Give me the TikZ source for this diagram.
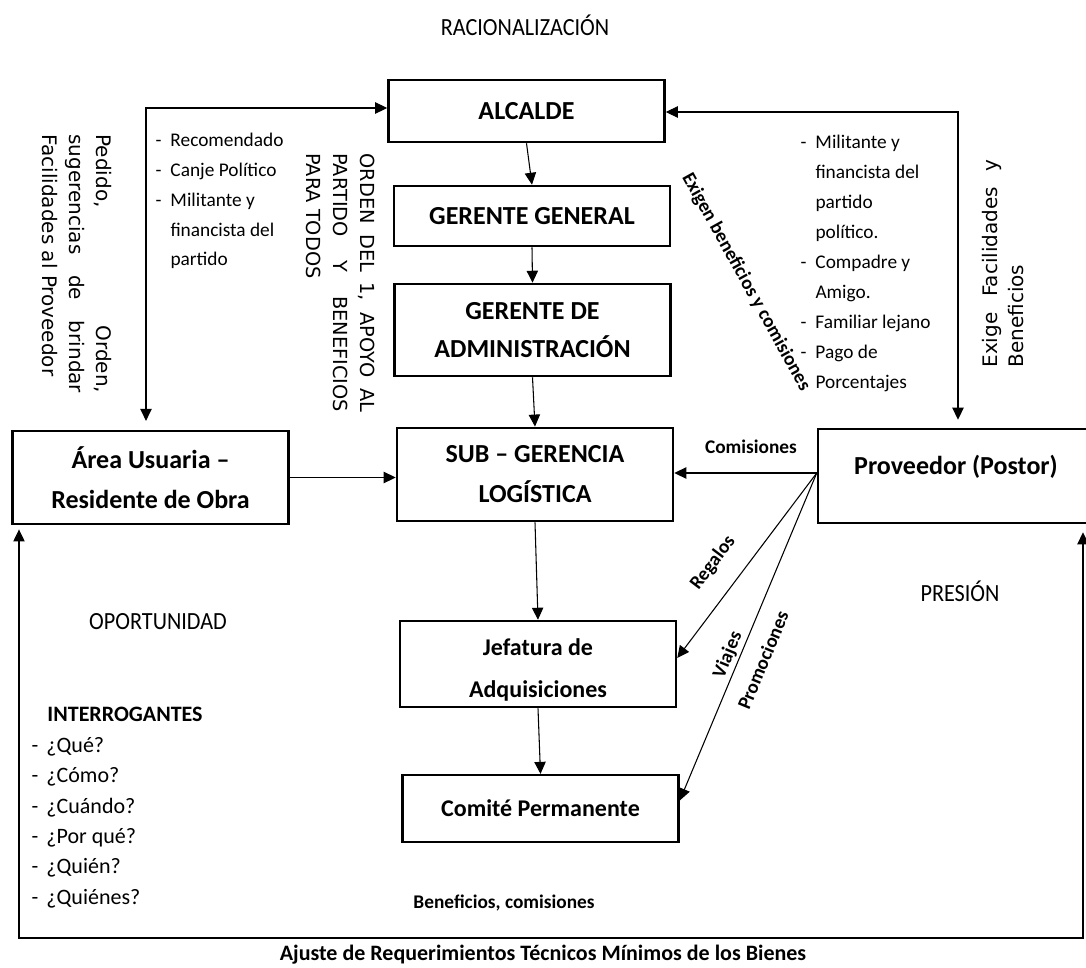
\documentclass[tikz,border=0pt]{standalone}
\usepackage{fontspec}
\setmainfont{Carlito}
\newfontfamily\verdfont{DejaVu Sans}
\usetikzlibrary{arrows.meta,calc}

\tikzset{every picture/.style={line width=0.75pt}}
\tikzset{
  caja/.style={draw, line width=1.9pt, minimum width=207pt, align=center, inner sep=2pt,
    font=\bfseries\fontsize{19.5}{30}\selectfont},
  cajachica/.style={caja, font=\bfseries\fontsize{18}{31}\selectfont},
  flecha/.style={-{Triangle[length=9pt,width=8.5pt]}, line width=0.8pt},
  flechados/.style={{Triangle[length=9pt,width=8.5pt]}-{Triangle[length=9pt,width=8.5pt]}, line width=0.8pt},
  etiq/.style={font=\bfseries\fontsize{14.5}{17}\selectfont, inner sep=0pt},
  lista/.style={anchor=north west, inner sep=0pt, align=left, font=\fontsize{14.5}{22.3}\selectfont},
  vert/.style={anchor=north west, inner sep=0pt, align=left, font=\verdfont\fontsize{15}{20}\selectfont},
  titulo/.style={font=\fontsize{18.5}{20}\selectfont}
}
\newcommand{\itm}[1]{\makebox[11.25pt][l]{-}#1}
\newcommand{\sgt}[1]{\hspace*{11.25pt}#1}
\newcommand{\angosto}[1]{\scalebox{0.9}[1]{#1}}

\begin{document}
\begin{tikzpicture}[x=0.75pt,y=0.75pt,yscale=-1,xscale=1]
	%set diagram size 1086 x 968
	\useasboundingbox (0,0) rectangle (1086,968);
	
	%Shape: Rectangle [alcalde]
	\node[caja, minimum height=46.5pt] (alcalde) at (526.5,111) {ALCALDE};
	%Shape: Rectangle [gerente general]
	\node[caja, minimum height=45pt] (gergen) at (532,216) {GERENTE GENERAL};
	%Shape: Rectangle [gerente de administracion]
	\node[caja, minimum height=69pt, font=\bfseries\fontsize{19.5}{28.5}\selectfont] (geradm) at (532.5,330) {GERENTE DE\\ADMINISTRACIÓN};
	%Shape: Rectangle [sub gerencia]
	\node[caja, minimum height=70pt] (subger) at (535,474.5) {SUB – GERENCIA\\LOGÍSTICA};
	%Shape: Rectangle [jefatura]
	\node[cajachica, minimum height=64.5pt, text height=52.5pt] (jefatura) at (538,664) {Jefatura de\\Adquisiciones};
	%Shape: Rectangle [comite]
	\node[cajachica, minimum height=50pt] (comite) at (540.5,808.5) {Comité Permanente};
	%Shape: Rectangle [area usuaria]
	\node[caja, minimum height=70pt] (area) at (150.5,477.5) {Área Usuaria –\\Residente de Obra};
	%Shape: Rectangle [proveedor]
	\node[caja, minimum height=70.5pt, text depth=16pt] (proveedor) at (956,476) {Proveedor (Postor)};
	
	%Straight Lines [cadena de mando]
	\draw[flecha] (alcalde.south) -- (gergen.north);
	\draw[flecha] (gergen.south) -- (geradm.north);
	\draw[flecha] (geradm.south) -- (subger.north);
	\draw[flecha] (subger.south) -- (jefatura.north);
	\draw[flecha] (jefatura.south) -- (comite.north);
	\draw[flecha] (area.east) -- (area.east -| subger.west);
	
	%Straight Lines [desde proveedor]
	\coordinate (pv) at ($(proveedor.west)+(0,-3)$);
	\draw[flecha] (pv) -- (pv -| subger.east);
	\draw[flecha] (pv) -- ($(jefatura.east)+(0,-6)$);
	\draw[flecha] (pv) -- ($(comite.east)+(0,-8)$);
	
	%Straight Lines [lazo izquierdo]
	\coordinate (cizq) at (146,108);
	\draw[flechados, shorten >=6.5pt] (alcalde.west |- cizq) -- (cizq) -- (cizq |- area.north);
	%Straight Lines [lazo derecho]
	\coordinate (cder) at (958,112);
	\draw[flechados, shorten >=6pt] (alcalde.east |- cder) -- (cder) -- (cder |- proveedor.north);
	%Straight Lines [lazo inferior]
	\coordinate (cabi) at (19,938);
	\coordinate (cabd) at (1083,938);
	\draw[flechados, shorten <=3pt, shorten >=6pt] (cabi |- area.south) -- (cabi) -- (cabd) -- (cabd |- proveedor.south);
	
	% Text Node
	\node[titulo] (racional) at (525,25) {\angosto{RACIONALIZACIÓN}};
	% Text Node
	\node[titulo] (oportun) at (158,622) {\angosto{OPORTUNIDAD}};
	% Text Node
	\node[titulo] (presion) at (960,591) {\angosto{PRESIÓN}};
	% Text Node
	\node[lista] (recom) at (155,133) {\itm{Recomendado}\\\itm{Canje Político}\\\itm{Militante y}\\\sgt{financista del}\\\sgt{partido}};
	% Text Node
	\node[lista, font=\fontsize{14.5}{22.5}\selectfont] (militante) at (800,135) {\itm{Militante y}\\\sgt{financista del}\\\sgt{partido}\\\sgt{político.}\\\itm{Compadre y}\\\sgt{Amigo.}\\\itm{Familiar lejano}\\\itm{Pago de}\\\sgt{Porcentajes}};
	% Text Node
	\node[lista, font=\fontsize{16.5}{22.8}\selectfont] (interrog) at (31,707) {\hspace*{12pt}\textbf{INTERROGANTES}\\\itm{¿Qué?}\\\itm{¿Cómo?}\\\itm{¿Cuándo?}\\\itm{¿Por qué?}\\\itm{¿Quién?}\\\itm{¿Quiénes?}};
	% Text Node
	\node[vert, rotate=-90] (pedido) at (112,134) {\makebox[194pt][s]{Pedido,\hfill Orden,}\\\makebox[194pt][s]{sugerencias de brindar}\\Facilidades al Proveedor};
	% Text Node
	\node[vert, rotate=-90, font=\verdfont\fontsize{14.5}{20.25}\selectfont] (orden) at (375,153) {\makebox[194pt][s]{ORDEN DEL 1, APOYO AL}\\\makebox[194pt][s]{PARTIDO Y BENEFICIOS}\\PARA TODOS};
	% Text Node
	\node[vert, rotate=90, font=\verdfont\fontsize{15}{19}\selectfont] (exige) at (982,368) {\makebox[156pt][s]{Exige Facilidades y}\\Beneficios};
	% Text Node
	\node[etiq, rotate=-61] (exigen) at (746,282) {Exigen beneficios y comisiones};
	% Text Node
	\node[etiq] (comis) at (751,447) {Comisiones};
	% Text Node
	\node[etiq, rotate=53] (regalos) at (713,563) {Regalos};
	% Text Node
	\node[etiq, rotate=67.5] (viajes) at (728,655) {Viajes};
	% Text Node
	\node[etiq, rotate=67.5] (promo) at (763,660) {Promociones};
	% Text Node
	\node[etiq] (benef) at (504,903) {Beneficios, comisiones};
	% Text Node
	\node[etiq, font=\bfseries\fontsize{16.5}{18}\selectfont] (ajuste) at (543,955) {Ajuste de Requerimientos Técnicos Mínimos de los Bienes};
	
\end{tikzpicture}
\end{document}
